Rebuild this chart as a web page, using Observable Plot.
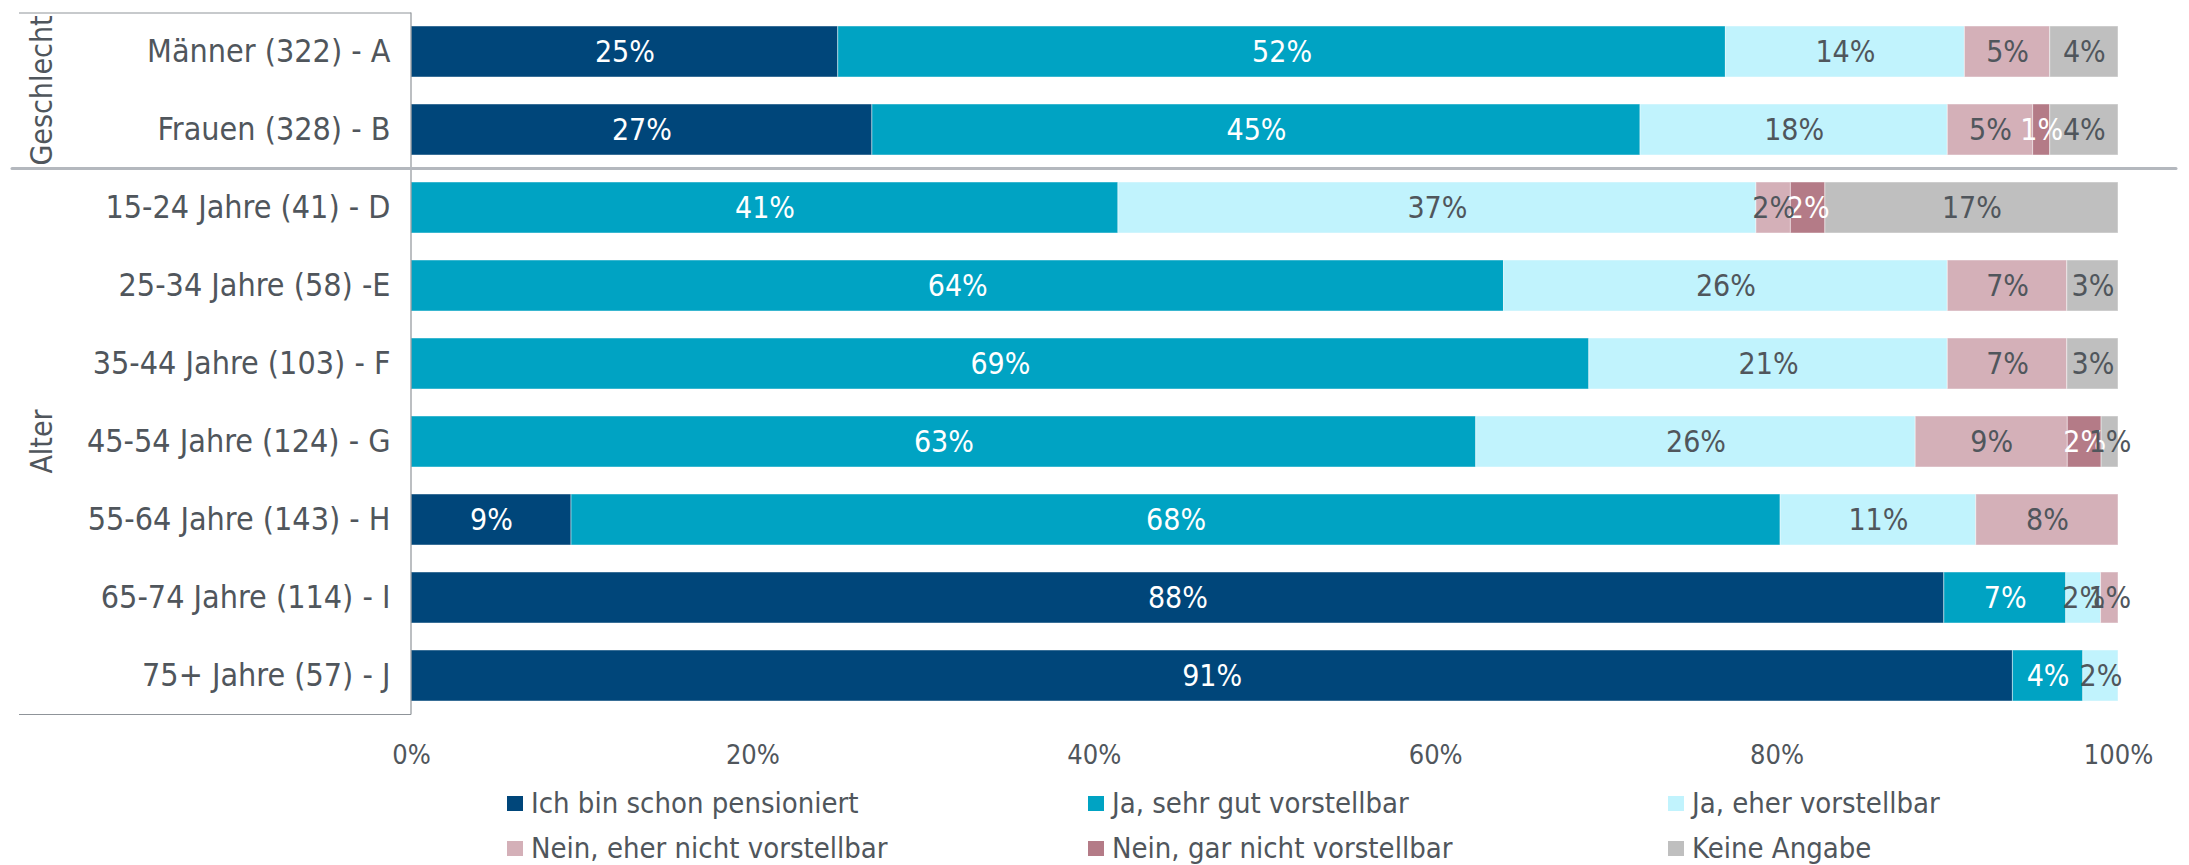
<!DOCTYPE html>
<html>
<head>
<meta charset="utf-8">
<script src="https://cdn.jsdelivr.net/npm/d3@7"></script>
<script src="https://cdn.jsdelivr.net/npm/@observablehq/plot@0.6"></script>
<style>
  body { margin: 0; background: #ffffff; font-family: "DejaVu Sans Condensed", "DejaVu Sans", sans-serif; }
  #legend { position: relative; width: 2189px; height: 90px; color: #50565c; font-size: 29px; }
  .item { position: absolute; display: flex; align-items: center; white-space: nowrap; line-height: 1; }
  .sw { width: 16px; height: 15px; margin-right: 8px; flex: none; }
</style>
</head>
<body>
<div id="chart"></div>
<div id="legend"></div>
<script>
// ---------- data ----------
const categories = [
  "Männer (322) - A",
  "Frauen (328) - B",
  "15-24 Jahre (41) - D",
  "25-34 Jahre (58) -E",
  "35-44 Jahre (103) - F",
  "45-54 Jahre (124) - G",
  "55-64 Jahre (143) - H",
  "65-74 Jahre (114) - I",
  "75+ Jahre (57) - J"
];
const groupNames = ["Geschlecht", "Alter"];
const groupOfCategory = [0, 0, 1, 1, 1, 1, 1, 1, 1];

const seriesNames = [
  "Ich bin schon pensioniert",
  "Ja, sehr gut vorstellbar",
  "Ja, eher vorstellbar",
  "Nein, eher nicht vorstellbar",
  "Nein, gar nicht vorstellbar",
  "Keine Angabe"
];
const seriesColors = ["#00467a", "#00a3c3", "#c1f3fd", "#d4b0b8", "#b47b87", "#bfbfbf"];
const darkLabelSeries = ["Ja, eher vorstellbar", "Nein, eher nicht vorstellbar", "Keine Angabe"];

const pensioniert     = [25, 27,  0,  0,  0,  0,  9, 88, 91];
const sehrGut         = [52, 45, 41, 64, 69, 63, 68,  7,  4];
const eherVorstellbar = [14, 18, 37, 26, 21, 26, 11,  2,  2];
const eherNicht       = [ 5,  5,  2,  7,  7,  9,  8,  1,  0];
const garNicht        = [ 0,  1,  2,  0,  0,  2,  0,  0,  0];
const keineAngabe     = [ 4,  4, 17,  3,  3,  1,  0,  0,  0];
const seriesValues = [pensioniert, sehrGut, eherVorstellbar, eherNicht, garNicht, keineAngabe];

const xTicks = [0, 0.2, 0.4, 0.6, 0.8, 1];
const xTickLabels = ["0%", "20%", "40%", "60%", "80%", "100%"];

// ---------- build tidy table ----------
const data = [];
categories.forEach((c, i) => {
  seriesNames.forEach((s, j) => {
    const v = seriesValues[j][i];
    if (v > 0) data.push({category: c, series: s, value: v});
  });
});

const FONT = '"DejaVu Sans Condensed", "DejaVu Sans", sans-serif';
const TEXT = "#50565c";
const W = 2189, H = 775;

const stack = {x: "value", y: "category", z: "series", offset: "normalize", order: null};

const plot = Plot.plot({
  width: W,
  height: H,
  marginLeft: 411,
  marginRight: 71,
  marginTop: 9,
  marginBottom: 57,
  style: {fontFamily: FONT, fontSize: "30px", color: TEXT, background: "#ffffff", overflow: "visible"},
  x: {domain: [0, 1], axis: null},
  y: {domain: categories, axis: null, paddingInner: 0.34, paddingOuter: 0.17},
  color: {domain: seriesNames, range: seriesColors},
  marks: [
    Plot.barX(data, Plot.stackX({...stack, fill: "series", stroke: "#ffffff", strokeOpacity: 0.45, strokeWidth: 1})),
    Plot.text(data, Plot.filter(d => !darkLabelSeries.includes(d.series),
      Plot.stackX({...stack, text: d => d.value + "%", fill: "#ffffff", fontSize: 30}))),
    Plot.text(data, Plot.filter(d => darkLabelSeries.includes(d.series),
      Plot.stackX({...stack, text: d => d.value + "%", fill: TEXT, fontSize: 30}))),
    Plot.axisX({ticks: xTicks, tickFormat: d => xTickLabels[xTicks.indexOf(d)], tickSize: 0, tickPadding: 26, fontSize: 27, fill: TEXT, label: null}),
    Plot.axisY({tickSize: 0, tickPadding: 21, fontSize: 32, fill: TEXT, label: null})
  ]
});

document.getElementById("chart").appendChild(plot);

// ---------- frame, separator and group labels (derived from scales) ----------
const ys = plot.scale("y");
const xs = plot.scale("x");
const bw = ys.bandwidth, step = ys.step, gap = (step - bw) / 2;
const x0 = xs.apply(0), x1 = xs.apply(1);
const yTop = ys.apply(categories[0]) - gap;
const yBottom = ys.apply(categories[categories.length - 1]) + bw + gap;
const frameLeft = 19;
const svg = d3.select(plot);
const g = svg.append("g");

g.append("line").attr("x1", frameLeft).attr("x2", x0).attr("y1", yTop + 0.5).attr("y2", yTop + 0.5)
  .attr("stroke", "#8f9499").attr("stroke-width", 1);
g.append("line").attr("x1", frameLeft).attr("x2", x0).attr("y1", yBottom).attr("y2", yBottom)
  .attr("stroke", "#8f9499").attr("stroke-width", 1);
g.append("line").attr("x1", x0).attr("x2", x0).attr("y1", yTop).attr("y2", yBottom)
  .attr("stroke", "#8f9499").attr("stroke-width", 1.2);

groupNames.forEach((name, gi) => {
  const members = categories.filter((c, i) => groupOfCategory[i] === gi);
  const gTop = ys.apply(members[0]) - gap;
  const gBottom = ys.apply(members[members.length - 1]) + bw + gap;
  if (gi > 0) {
    g.append("line").attr("x1", frameLeft - 7).attr("x2", x1 + 58).attr("y1", gTop).attr("y2", gTop)
      .attr("stroke", "#b4b8be").attr("stroke-width", 3).attr("stroke-linecap", "round");
  }
  const cy = (gTop + gBottom) / 2;
  g.append("text").attr("transform", `translate(41,${cy}) rotate(-90)`)
    .attr("text-anchor", "middle").attr("dy", "0.35em")
    .attr("font-family", FONT).attr("font-size", 30).attr("fill", TEXT).text(name);
});

// ---------- legend ----------
const legend = d3.select("#legend");
const colX = [507, 1088, 1668];
const rowY = [28, 73];
seriesNames.forEach((s, i) => {
  const col = i % 3, row = Math.floor(i / 3);
  const item = legend.append("div").attr("class", "item")
    .style("left", colX[col] + "px").style("top", (rowY[row] - 15) + "px").style("height", "30px");
  item.append("div").attr("class", "sw").style("background", seriesColors[i]);
  item.append("span").text(s);
});
</script>
</body>
</html>
